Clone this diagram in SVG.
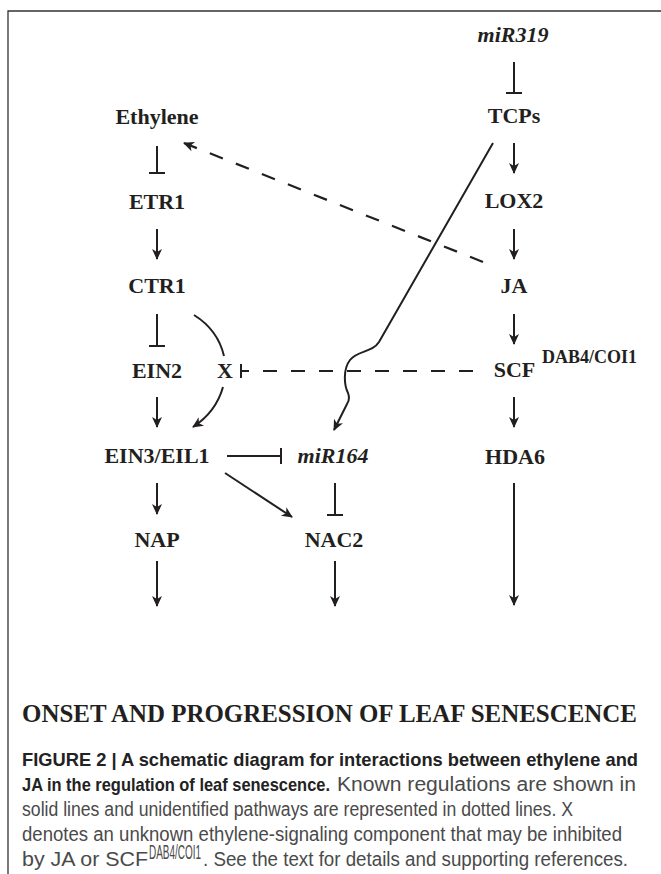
<svg xmlns="http://www.w3.org/2000/svg" width="661" height="874" viewBox="0 0 661 874">
<defs>
<style>
.lbl{font-family:"Liberation Serif","Times New Roman",serif;font-weight:bold;font-size:22px;fill:#231f20;text-anchor:middle}
.it{font-style:italic}
.sup{font-family:"Liberation Serif","Times New Roman",serif;font-weight:bold;font-size:18px;fill:#231f20}
.ln{fill:none;stroke:#231f20;stroke-width:2}
.dash{fill:none;stroke:#231f20;stroke-width:2.2;stroke-dasharray:14 14}
.cb{font-family:"Liberation Sans",Arial,sans-serif;font-weight:bold;font-size:19px;fill:#222}
.cr{font-family:"Liberation Sans",Arial,sans-serif;font-size:19.5px;fill:#4a4a4a}
</style>
<marker id="ah" markerUnits="userSpaceOnUse" markerWidth="16" markerHeight="14" viewBox="-12 -7 16 14" refX="0" refY="0" orient="auto">
<path d="M1,0 L-10,-5 L-7,0 L-10,5 Z" fill="#231f20"/>
</marker>
</defs>
<rect width="661" height="874" fill="#fff"/>
<g id="frame" fill="none" stroke="#333" stroke-width="1.3">
<path d="M8,874 V11 H661"/>
</g>
<g id="n-ethylene"><text class="lbl" x="157" y="124">Ethylene</text></g>
<g id="n-etr1"><text class="lbl" x="157" y="209">ETR1</text></g>
<g id="n-ctr1"><text class="lbl" x="157" y="293">CTR1</text></g>
<g id="n-ein2"><text class="lbl" x="157" y="378">EIN2</text></g>
<g id="n-x"><text class="lbl" x="225" y="378">X</text></g>
<g id="n-ein3"><text class="lbl" x="157" y="463">EIN3/EIL1</text></g>
<g id="n-mir164"><text class="lbl it" x="333" y="463">miR164</text></g>
<g id="n-nap"><text class="lbl" x="157" y="547">NAP</text></g>
<g id="n-nac2"><text class="lbl" x="334" y="547">NAC2</text></g>
<g id="n-mir319"><text class="lbl it" x="513" y="42">miR319</text></g>
<g id="n-tcps"><text class="lbl" x="514" y="123">TCPs</text></g>
<g id="n-lox2"><text class="lbl" x="514" y="208">LOX2</text></g>
<g id="n-ja"><text class="lbl" x="514" y="293">JA</text></g>
<g id="n-scf"><text class="lbl" x="514.5" y="377">SCF</text><text class="sup" x="542" y="363">DAB4/COI1</text></g>
<g id="n-hda6"><text class="lbl" x="515" y="464">HDA6</text></g>
<g id="connectors">
<path class="ln" d="M157,146 V173 M149,173 H165"/>
<path class="ln" d="M157,229 V259" marker-end="url(#ah)"/>
<path class="ln" d="M157,314 V346 M149,346 H165"/>
<path class="ln" d="M157,397 V427" marker-end="url(#ah)"/>
<path class="ln" d="M157,483 V514" marker-end="url(#ah)"/>
<path class="ln" d="M157,561 V606" marker-end="url(#ah)"/>
<path class="ln" d="M194,315 Q218,330 224,356"/>
<path class="ln" d="M223,387 Q216,412 193,427" marker-end="url(#ah)"/>
<path class="ln" d="M227,456 H281 M281,448 V464"/>
<path class="ln" d="M225,473 L292,517" marker-end="url(#ah)"/>
<path class="ln" d="M335,483 V515 M327,515 H343"/>
<path class="ln" d="M335,561 V606" marker-end="url(#ah)"/>
<path class="ln" d="M514,62 V93 M506,93 H522"/>
<path class="ln" d="M514,143 V173" marker-end="url(#ah)"/>
<path class="ln" d="M514,229 V259" marker-end="url(#ah)"/>
<path class="ln" d="M514,314 V344" marker-end="url(#ah)"/>
<path class="ln" d="M514,397 V427" marker-end="url(#ah)"/>
<path class="ln" d="M514,483 V605" marker-end="url(#ah)"/>
<path class="ln" d="M493,143 L379,342 C372,353 358,350 350,360 C343,369 344,385 348,393 C350,398 349,401 347,404 L334,430" marker-end="url(#ah)"/>
<path class="dash" d="M483,262 L184,143" marker-end="url(#ah)"/>
<path class="dash" d="M473,371 H242"/>
<path class="ln" d="M241,364 V378"/>
</g>
<g id="title"><text x="22" y="722" font-family="'Liberation Serif','Times New Roman',serif" font-weight="bold" font-size="25" fill="#231f20" textLength="615" lengthAdjust="spacingAndGlyphs">ONSET AND PROGRESSION OF LEAF SENESCENCE</text></g>
<g id="caption">
<text class="cb" x="22" y="766" textLength="616" lengthAdjust="spacingAndGlyphs">FIGURE 2 | A schematic diagram for interactions between ethylene and</text>
<text class="cb" x="22" y="791" textLength="308" lengthAdjust="spacingAndGlyphs">JA in the regulation of leaf senescence.</text>
<text class="cr" x="337" y="791" textLength="299" lengthAdjust="spacingAndGlyphs">Known regulations are shown in</text>
<text class="cr" x="22" y="816" textLength="551" lengthAdjust="spacingAndGlyphs">solid lines and unidentified pathways are represented in dotted lines. X</text>
<text class="cr" x="22" y="841" textLength="600" lengthAdjust="spacingAndGlyphs">denotes an unknown ethylene-signaling component that may be inhibited</text>
<text class="cr" x="22" y="866" textLength="126" lengthAdjust="spacingAndGlyphs">by JA or SCF</text>
<text class="cr" x="149" y="859" font-size="11.5" textLength="52" lengthAdjust="spacingAndGlyphs">DAB4/COI1</text>
<text class="cr" x="203" y="866" textLength="425" lengthAdjust="spacingAndGlyphs">. See the text for details and supporting references.</text>
</g>
</svg>
